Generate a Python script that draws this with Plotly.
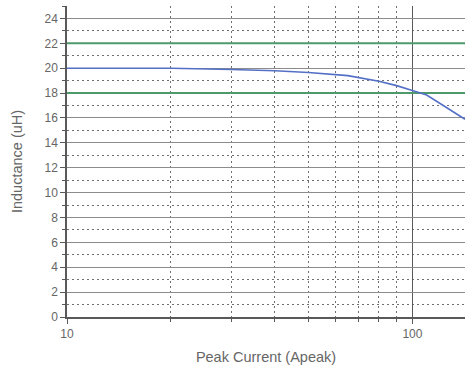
import plotly.graph_objects as go
import numpy as np

# Inductance vs. peak current
current = [10, 20, 30, 40, 50, 65, 80, 90, 100, 110, 142]
inductance = [20.0, 20.0, 19.9, 19.8, 19.65, 19.4, 18.95, 18.6, 18.2, 17.85, 15.9]

# Tolerance band limits (uH)
limit_low = 18
limit_high = 22

x_min, x_max = 10, 142
y_ticks = list(range(0, 25, 2))

fig = go.Figure()

for lim in (limit_low, limit_high):
    fig.add_trace(go.Scatter(
        x=[x_min, x_max], y=[lim, lim], mode="lines",
        line=dict(color="#4f9a6b", width=2), showlegend=False, hoverinfo="skip"))

fig.add_trace(go.Scatter(
    x=current, y=inductance, mode="lines",
    line=dict(color="#5470c6", width=1.6), showlegend=False))

family = "Liberation Sans, Arial, sans-serif"
tick_font = dict(family=family, color="#666666", size=12)
title_font = dict(family=family, color="#666666", size=14.5)

fig.update_layout(
    width=465, height=367,
    margin=dict(l=67, r=0, t=6, b=50),
    paper_bgcolor="white", plot_bgcolor="white",
    font=dict(family=family, color="#666666", size=12),
    xaxis=dict(
        type="log", range=[np.log10(x_min), np.log10(x_max)],
        tickvals=[10, 100], ticktext=["10", "100"], tickfont=tick_font,
        showgrid=True, gridcolor="#595959", gridwidth=1,
        ticks="outside", ticklen=5, tickcolor="#595959",
        showline=True, linecolor="#595959", linewidth=1.5,
        zeroline=False,
        minor=dict(dtick="D1", showgrid=True, gridcolor="#707070",
                   griddash="2px,3px", gridwidth=1,
                   ticks="outside", ticklen=3, tickcolor="#595959"),
        title=dict(text="Peak Current (Apeak)", font=title_font, standoff=12),
    ),
    yaxis=dict(
        range=[0, 25], tickvals=y_ticks, tickfont=tick_font,
        showgrid=True, gridcolor="#8c8c8c", gridwidth=1,
        ticks="outside", ticklen=5, tickcolor="#595959",
        showline=True, linecolor="#595959", linewidth=1.5,
        zeroline=False,
        minor=dict(dtick=1, showgrid=True, gridcolor="#707070",
                   griddash="2px,3px", gridwidth=1,
                   ticks="outside", ticklen=3, tickcolor="#595959"),
        title=dict(text="Inductance (uH)", font=title_font, standoff=18),
    ),
)

fig.write_html("out.html")
